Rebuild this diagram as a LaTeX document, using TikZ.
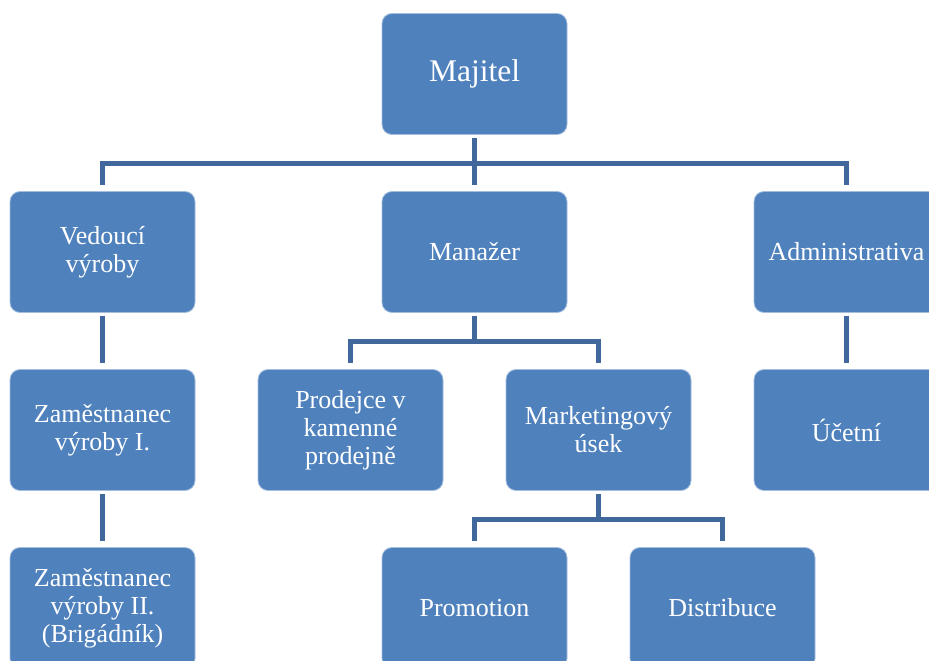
\documentclass[tikz,border=0pt]{standalone}
\usepackage{fontspec}
\setmainfont{Liberation Serif}
\definecolor{boxblue}{RGB}{79,129,189}
\definecolor{boxedge}{RGB}{165,190,222}
\definecolor{connblue}{RGB}{64,104,156}
\tikzset{
  orgbox/.style={rectangle, rounded corners=10pt, fill=boxblue, draw=boxedge, line width=0.8pt,
    minimum width=185pt, minimum height=121pt, align=center, text=white,
    font=\fontsize{26}{28}\selectfont, inner sep=2pt},
  conn/.style={draw=connblue, line width=5.5pt}
}
\begin{document}
\begin{tikzpicture}[x=1pt,y=-1pt]
\useasboundingbox (0,0) rectangle (929,661);
\clip (0,0) rectangle (929,661);
\node[orgbox, font=\fontsize{31.5}{34}\selectfont] (maj) at (474.5,74) {Majitel};
\node[orgbox] (ved) at (102.5,252) {Vedoucí\\výroby};
\node[orgbox] (man) at (474.5,252) {Manažer};
\node[orgbox] (adm) at (846.5,252) {Administrativa};
\node[orgbox] (zam1) at (102.5,430) {Zaměstnanec\\výroby I.};
\node[orgbox] (pro) at (350.5,430) {Prodejce v\\kamenné\\prodejně};
\node[orgbox] (mkt) at (598.5,430) {Marketingový\\úsek};
\node[orgbox] (uce) at (846.5,430) {Účetní};
\node[orgbox] (zam2) at (102.5,608) {Zaměstnanec\\výroby II.\\(Brigádník)};
\node[orgbox] (prom) at (474.5,608) {Promotion};
\node[orgbox] (dis) at (722.5,608) {Distribuce};
% level 1
\draw[conn] ([yshift=6pt]ved.north) |- ([yshift=-28.5pt]maj.south) -| ([yshift=6pt]adm.north);
\draw[conn] ([yshift=-3.5pt]maj.south) -- ([yshift=6pt]man.north);
% level 2
\draw[conn] ([yshift=-3.5pt]ved.south) -- ([yshift=6pt]zam1.north);
\draw[conn] ([yshift=-3.5pt]adm.south) -- ([yshift=6pt]uce.north);
\draw[conn] ([yshift=6pt]pro.north) |- ([yshift=-28.5pt]man.south) -| ([yshift=6pt]mkt.north);
\draw[conn] ([yshift=-3.5pt]man.south) -- ([yshift=-28.5pt]man.south);
% level 3
\draw[conn] ([yshift=-3.5pt]zam1.south) -- ([yshift=6pt]zam2.north);
\draw[conn] ([yshift=6pt]prom.north) |- ([yshift=-28.5pt]mkt.south) -| ([yshift=6pt]dis.north);
\draw[conn] ([yshift=-3.5pt]mkt.south) -- ([yshift=-28.5pt]mkt.south);
\end{tikzpicture}
\end{document}
